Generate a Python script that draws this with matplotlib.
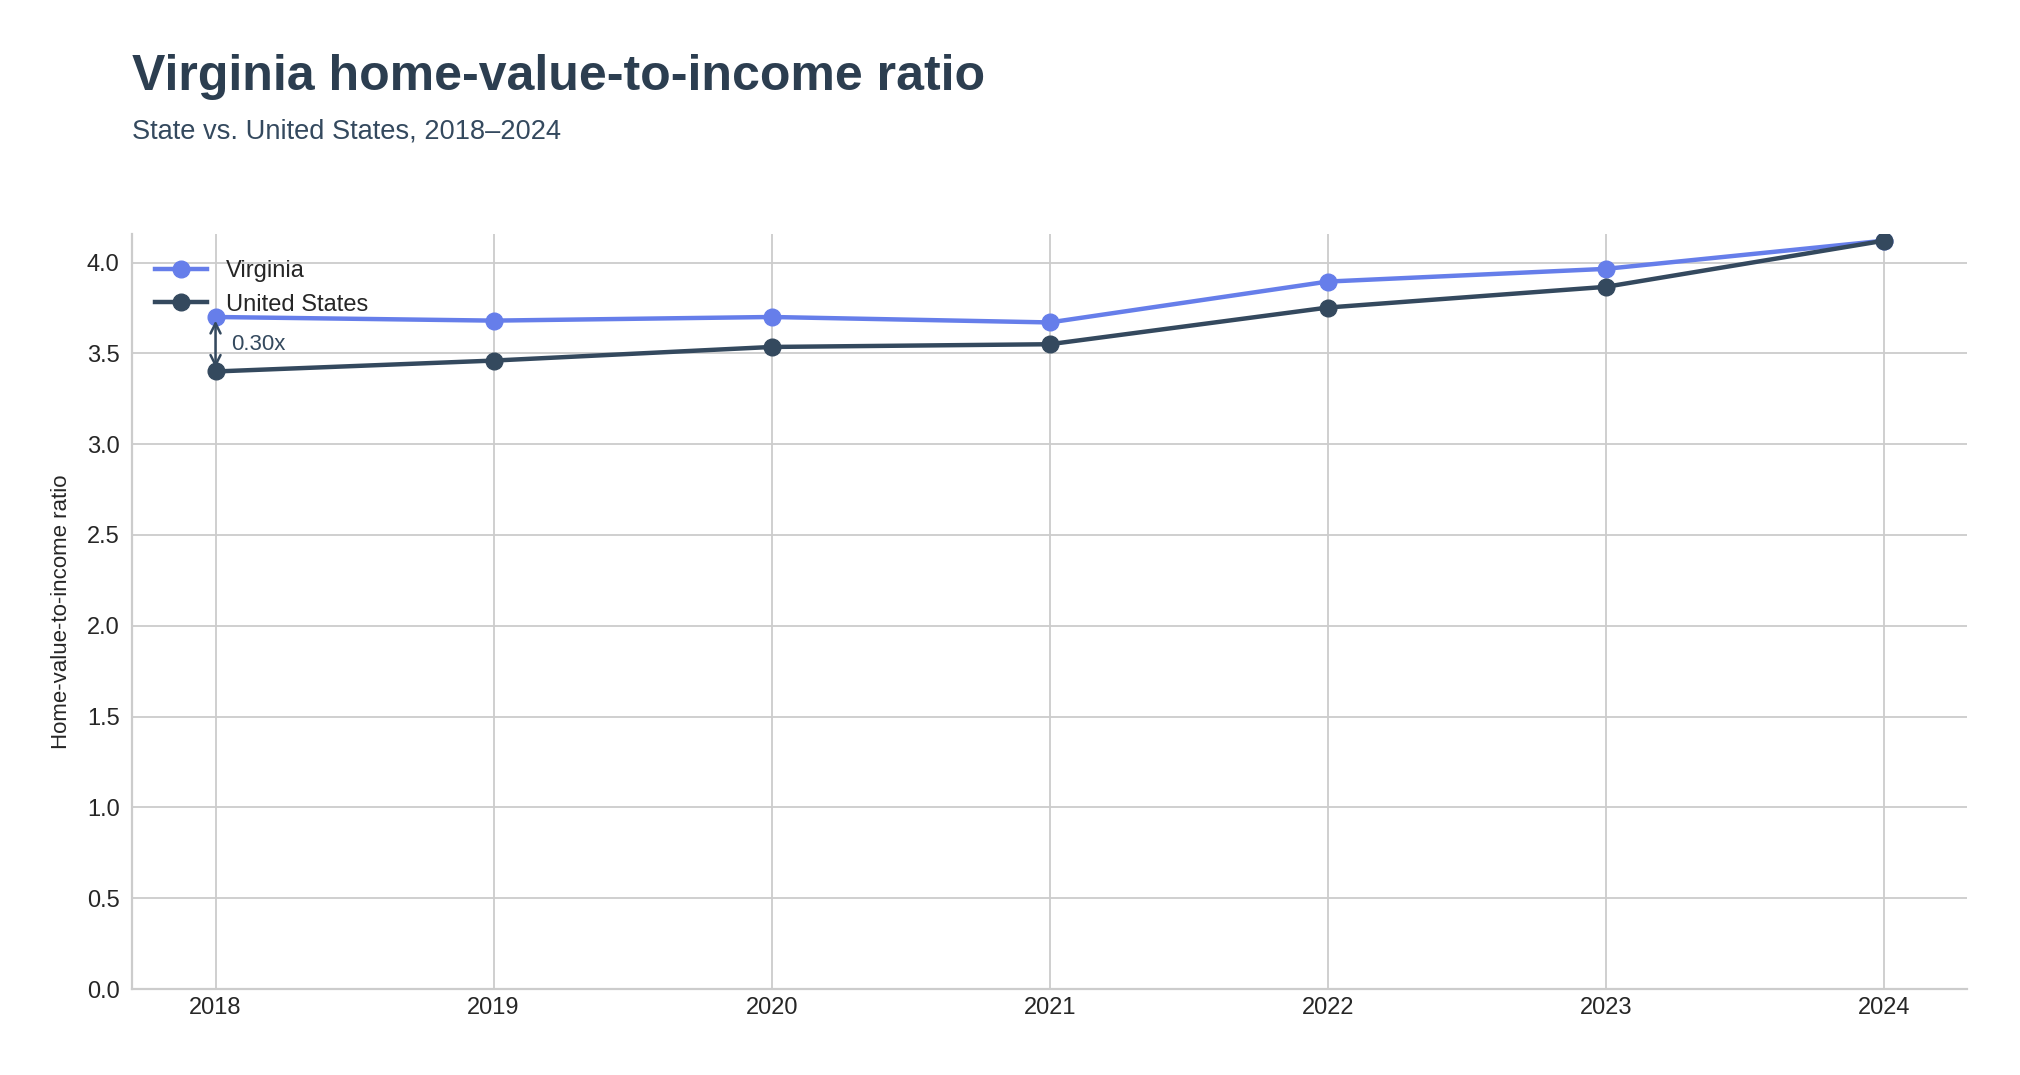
import matplotlib
matplotlib.use("Agg")
import matplotlib.pyplot as plt

years = [2018, 2019, 2020, 2021, 2022, 2023, 2024]
virginia = [3.70, 3.68, 3.70, 3.67, 3.895, 3.965, 4.12]
united_states = [3.40, 3.46, 3.535, 3.55, 3.752, 3.866, 4.12]
y_ticks = [0.0, 0.5, 1.0, 1.5, 2.0, 2.5, 3.0, 3.5, 4.0]

title = "Virginia home-value-to-income ratio"
subtitle = "State vs. United States, 2018\u20132024"
ylabel = "Home-value-to-income ratio"

VA_COLOR = "#667eea"
US_COLOR = "#34495e"
TEXT_DARK = "#2c3e50"

plt.rcParams["font.family"] = ["Liberation Sans", "DejaVu Sans"]

fig = plt.figure(figsize=(20.2, 10.75), dpi=100)
ax = fig.add_axes([0.0654, 0.080, 0.9085, 0.702])

ax.plot(years, virginia, color=VA_COLOR, lw=3.2, marker="o", ms=12, label="Virginia", zorder=3)
ax.plot(years, united_states, color=US_COLOR, lw=3.2, marker="o", ms=12, label="United States", zorder=4)

gap = virginia[0] - united_states[0]
ax.annotate("", xy=(years[0], virginia[0] - 0.02), xytext=(years[0], united_states[0] + 0.02),
            arrowprops=dict(arrowstyle="<->", color=US_COLOR, lw=1.8, shrinkA=0, shrinkB=0,
                            mutation_scale=18), zorder=5)
ax.annotate(f"{gap:.2f}x", xy=(years[0], (virginia[0] + united_states[0]) / 2),
            xytext=(11, 0), textcoords="offset points", va="center", ha="left",
            fontsize=16, color=US_COLOR)

ax.set_xlim(2017.7, 2024.3)
ax.set_ylim(0, 4.155)
ax.set_xticks(years)
ax.set_xticklabels([str(y) for y in years])
ax.set_yticks(y_ticks)
ax.set_yticklabels([f"{v:.1f}" for v in y_ticks])
ax.tick_params(axis="both", length=0, labelsize=17, labelcolor="#262626")
ax.tick_params(axis="x", pad=6)
ax.tick_params(axis="y", pad=9)

ax.grid(True, color="#cccccc", lw=1.3)
ax.set_axisbelow(True)
for s in ["top", "right"]:
    ax.spines[s].set_visible(False)
for s in ["left", "bottom"]:
    ax.spines[s].set_color("#cccccc")
    ax.spines[s].set_linewidth(1.6)

ax.set_ylabel(ylabel, fontsize=16, color="#262626", labelpad=11)

leg = ax.legend(loc="upper left", frameon=False, fontsize=17, handlelength=2.2,
                borderaxespad=0.2, labelspacing=0.5, bbox_to_anchor=(0.005, 0.985))
for t in leg.get_texts():
    t.set_color("#262626")

fig.text(0.0654, 0.916, title, fontsize=36, fontweight="bold", color=TEXT_DARK, ha="left", va="baseline")
fig.text(0.0654, 0.871, subtitle, fontsize=19.6, color=US_COLOR, ha="left", va="baseline")

fig.savefig("out.png", dpi=100)
